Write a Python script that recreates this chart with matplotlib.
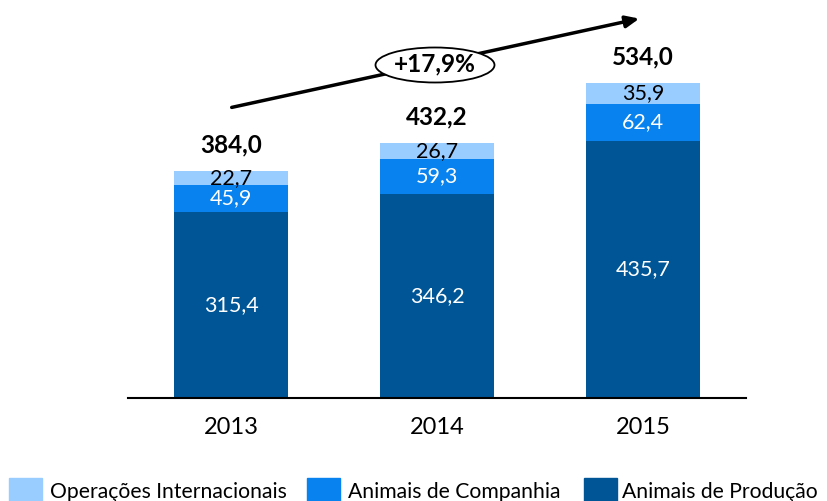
import matplotlib
matplotlib.use("Agg")
import matplotlib.pyplot as plt
from matplotlib.patches import Ellipse, Rectangle

plt.rcParams['font.family'] = ['Lato', 'DejaVu Sans']

anos = ["2013", "2014", "2015"]
producao = [315.4, 346.2, 435.7]
companhia = [45.9, 59.3, 62.4]
internacionais = [22.7, 26.7, 35.9]
totais = [384.0, 432.2, 534.0]
crescimento = "+17,9%"

series = ["Operações Internacionais", "Animais de Companhia", "Animais de Produção"]
cor_prod = "#005596"
cor_comp = "#0782EE"
cor_int = "#99CCFF"


def fmt(v):
    return ("%.1f" % v).replace(".", ",")


W, H = 827, 501
fig = plt.figure(figsize=(W / 100, H / 100), dpi=100)
ax = fig.add_axes([128 / W, (H - 398) / H, (746 - 128) / W, 388 / H])

x = list(range(len(anos)))
largura = 0.558
b1 = [producao[i] + companhia[i] for i in x]

ax.bar(x, producao, largura, color=cor_prod)
ax.bar(x, companhia, largura, bottom=producao, color=cor_comp)
ax.bar(x, internacionais, largura, bottom=b1, color=cor_int)

for i in x:
    ax.text(i, producao[i] / 2, fmt(producao[i]), ha="center", va="center", color="white", fontsize=15.5)
    ax.text(i, producao[i] + companhia[i] / 2, fmt(companhia[i]), ha="center", va="center", color="white", fontsize=15.5)
    ax.text(i, b1[i] + internacionais[i] / 2, fmt(internacionais[i]), ha="center", va="center", color="black", fontsize=15.5)
    ax.annotate(fmt(totais[i]), (i, totais[i]), xytext=(0, 19), textcoords="offset points",
                ha="center", va="center", fontsize=17.5, fontweight="bold")

ax.set_xlim(-0.5, 2.5)
ax.set_ylim(0, 388 / 0.59)
ax.set_xticks(x)
ax.set_xticklabels(anos, fontsize=17)
ax.tick_params(axis="x", length=0, pad=14)
ax.set_yticks([])
for s in ["top", "right", "left"]:
    ax.spines[s].set_visible(False)
ax.spines["bottom"].set_linewidth(1.5)

# seta de crescimento
ax.annotate("", xy=(642, H - 18), xycoords="figure pixels", xytext=(229, H - 108), textcoords="figure pixels",
            arrowprops=dict(arrowstyle="-|>,head_length=0.8,head_width=0.35", color="black", lw=2.5),
            annotation_clip=False)
el = Ellipse((435, H - 65), 119, 35, transform=None, facecolor="white", edgecolor="black", lw=1.3, zorder=5)
fig.add_artist(el)
fig.text(435 / W, (H - 64) / H, crescimento, ha="center", va="center", fontsize=17.5, fontweight="bold", zorder=6)

# legenda
cores = [cor_int, cor_comp, cor_prod]
pos = [(9, 50), (307, 348), (584, 622)]
for (xq, xt), c, nome in zip(pos, cores, series):
    fig.add_artist(Rectangle((xq / W, -10 / H), 33 / W, 33 / H, transform=fig.transFigure, color=c))
    fig.text(xt / W, 3 / H, nome, ha="left", va="baseline", fontsize=15.2)

fig.savefig("out.png", dpi=100)
